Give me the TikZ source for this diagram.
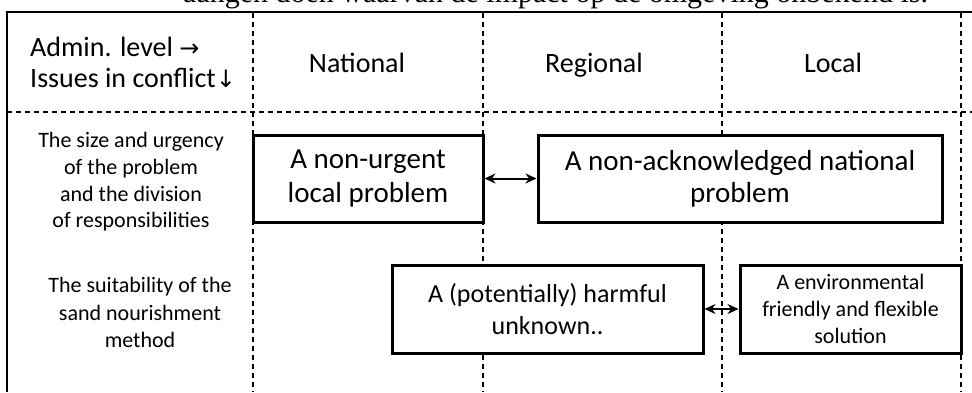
\documentclass[tikz,border=0pt]{standalone}
\usepackage{fontspec}
\usetikzlibrary{arrows.meta}
\setmainfont{Carlito}
\newfontfamily\serifdoc{Liberation Serif}
\newfontfamily\symfont{DejaVu Sans}
\begin{document}
\begin{tikzpicture}[x=1pt,y=-1pt,
  grid/.style={dash pattern=on 5pt off 4pt, line width=1.3pt},
  frame/.style={line width=2pt},
  box/.style={draw, fill=white, line width=3pt, align=center, inner sep=0pt},
  link/.style={{Stealth[length=11pt,width=10pt]}-{Stealth[length=11pt,width=10pt]}, line width=2pt},
  lbl/.style={align=center, inner sep=0pt}]
\useasboundingbox (0,0) rectangle (972,392);
\clip (0,0) rectangle (972,392);
\fill[white] (0,0) rectangle (972,392);
% clipped caption line above the table
\node[anchor=base west, inner sep=0pt, font=\serifdoc\fontsize{30}{34}\selectfont] (cap) at (183,2) {aangen doen waarvan de impact op de omgeving onbekend is.};
% frame
\coordinate (tl) at (7,12);
\coordinate (bl) at (7,392);
\coordinate (tr) at (972,12);
\draw[frame] (bl) -- (tl) -- (tr);
\coordinate (hl) at (7,112);
\coordinate (hr) at (972,112);
\draw[grid] (hl) -- (hr);
\foreach \x/\n in {253/a,483/b,722/c,961/d}{
  \coordinate (v\n t) at (\x,13);
  \coordinate (v\n b) at (\x,392);
  \draw[grid] (v\n t) -- (v\n b);
}
% header
\node[anchor=west, lbl, align=left, font=\fontsize{28}{31}\selectfont] (hdr) at (30,62.5) {Admin. level {\symfont\fontsize{24}{26}\selectfont →}\\Issues in conflict{\symfont\fontsize{24}{26}\selectfont ↓}};
\node[lbl, anchor=base, font=\fontsize{28}{31}\selectfont] (nat) at (357,72) {National};
\node[lbl, anchor=base, font=\fontsize{28}{31}\selectfont] (reg) at (594,72) {Regional};
\node[lbl, anchor=base, font=\fontsize{28}{31}\selectfont] (loc) at (833,72) {Local};
% row labels
\node[lbl, font=\fontsize{22}{26.7}\selectfont] (r1) at (131,182) {The size and urgency\\of the problem\\and the division\\of responsibilities};
\node[lbl, font=\fontsize{22}{27.5}\selectfont] (r2) at (140,312.5) {The suitability of the\\sand nourishment\\method};
% boxes
\node[box, minimum width=230pt, minimum height=87pt, font=\fontsize{29}{34}\selectfont] (b1) at (368,178.5) {A non-urgent\\local problem};
\node[box, minimum width=404pt, minimum height=87pt, font=\fontsize{29}{32}\selectfont] (b2) at (740,178.5) {A non-acknowledged national\\problem};
\node[box, minimum width=311pt, minimum height=88pt, font=\fontsize{26}{32}\selectfont] (b3) at (547.5,309) {A (potentially) harmful\\unknown..};
\node[box, minimum width=221pt, minimum height=88pt, font=\fontsize{22}{27}\selectfont] (b4) at (850.5,309) {A environmental\\friendly and flexible\\solution};
% connectors
\draw[link] (b1.east) -- (b2.west);
\draw[link] (b3.east) -- (b4.west);
\end{tikzpicture}
\end{document}
